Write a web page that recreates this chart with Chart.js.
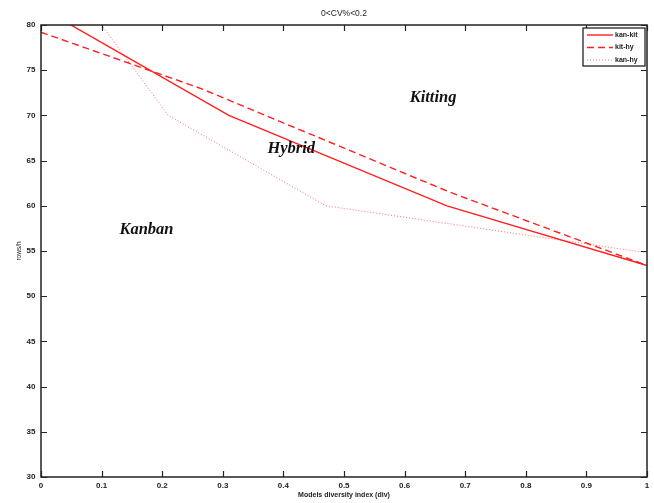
<!DOCTYPE html>
<html>
<head>
<meta charset="utf-8">
<script src="https://cdn.jsdelivr.net/npm/chart.js@4.4.1/dist/chart.umd.min.js"></script>
<style>
  html, body { margin: 0; padding: 0; background: #fff; }
  #wrap { width: 654px; height: 503px; }
</style>
</head>
<body>
<div id="wrap"><canvas id="c" width="654" height="503"></canvas></div>
<script>
/* DATA */
const kanKitX = [0, 0.31, 0.67, 1];
const kanKitY = [81.9, 70, 60, 53.4];

const kitHyX = [0, 0.263, 0.675, 1];
const kitHyY = [79.2, 73.0, 61.5, 53.4];

const kanHyX = [0.1, 0.21, 0.47, 0.675, 1];
const kanHyY = [80, 70, 60, 58, 54.8];

const xTicks = [0, 0.1, 0.2, 0.3, 0.4, 0.5, 0.6, 0.7, 0.8, 0.9, 1];
const yTicks = [30, 35, 40, 45, 50, 55, 60, 65, 70, 75, 80];

const regionLabels = ["Kitting", "Hybrid", "Kanban"];
const regionX = [0.647, 0.413, 0.174];
const regionY = [72.0, 66.3, 57.3];

const chartTitle = "0<CV%<0.2";
const xTitle = "Models diversity index (div)";
const yTitle = "rows/h";

/* HELPERS */
function toPoints(xs, ys) {
    return xs.map((x, i) => ({ x: x, y: ys[i] }));
}

const tickFont = "bold 8px 'Liberation Sans', Arial, sans-serif";

/* FRAME, INNER TICKS, TEXT, LEGEND */
const decor = {
    id: "decor",
    afterDraw(chart) {
        const ctx = chart.ctx;
        const a = chart.chartArea;
        const xs = chart.scales.x;
        const ys = chart.scales.y;

        ctx.save();

        // box
        ctx.strokeStyle = "#222";
        ctx.lineWidth = 1.5;
        ctx.strokeRect(a.left, a.top, a.right - a.left, a.bottom - a.top);

        // inner ticks on all four sides
        ctx.lineWidth = 1.2;
        ctx.beginPath();
        xTicks.forEach(v => {
            const px = Math.round(xs.getPixelForValue(v)) + 0.5;
            ctx.moveTo(px, a.bottom); ctx.lineTo(px, a.bottom - 6);
            ctx.moveTo(px, a.top); ctx.lineTo(px, a.top + 6);
        });
        yTicks.forEach(v => {
            const py = Math.round(ys.getPixelForValue(v)) + 0.5;
            ctx.moveTo(a.left, py); ctx.lineTo(a.left + 6, py);
            ctx.moveTo(a.right, py); ctx.lineTo(a.right - 6, py);
        });
        ctx.stroke();

        // tick labels
        ctx.fillStyle = "#222";
        ctx.font = tickFont;
        ctx.textAlign = "center";
        ctx.textBaseline = "top";
        xTicks.forEach(v => {
            ctx.fillText(String(v), xs.getPixelForValue(v), a.bottom + 4.5);
        });
        ctx.textAlign = "right";
        ctx.textBaseline = "middle";
        yTicks.forEach(v => {
            ctx.fillText(String(v), a.left - 5.5, ys.getPixelForValue(v));
        });

        // titles
        ctx.font = "8.5px 'Liberation Sans', Arial, sans-serif";
        ctx.textAlign = "center";
        ctx.textBaseline = "middle";
        ctx.fillText(chartTitle, (a.left + a.right) / 2, 14);
        ctx.font = "bold 7px 'Liberation Sans', Arial, sans-serif";
        ctx.fillText(xTitle, (a.left + a.right) / 2, 495);
        ctx.save();
        ctx.translate(19, (a.top + a.bottom) / 2);
        ctx.rotate(-Math.PI / 2);
        ctx.font = "6.5px 'Liberation Sans', Arial, sans-serif";
        ctx.fillText(yTitle, 0, 0);
        ctx.restore();

        // region labels
        ctx.font = "italic bold 16.5px 'Liberation Serif', 'DejaVu Serif', serif";
        ctx.fillStyle = "#111";
        regionLabels.forEach((t, i) => {
            ctx.fillText(t, xs.getPixelForValue(regionX[i]), ys.getPixelForValue(regionY[i]));
        });

        // legend
        const lx = 583, ly = 28, lw = 62, lh = 38;
        ctx.fillStyle = "#fff";
        ctx.fillRect(lx, ly, lw, lh);
        ctx.strokeStyle = "#111";
        ctx.lineWidth = 1.2;
        ctx.strokeRect(lx, ly, lw, lh);
        chart.data.datasets.forEach((ds, i) => {
            const yy = ly + 7 + i * 12.5;
            ctx.strokeStyle = ds.borderColor;
            ctx.lineWidth = ds.borderWidth;
            ctx.setLineDash(ds.borderDash || []);
            ctx.beginPath();
            ctx.moveTo(lx + 4, yy);
            ctx.lineTo(lx + 30, yy);
            ctx.stroke();
            ctx.setLineDash([]);
            ctx.fillStyle = "#222";
            ctx.font = "bold 7px 'Liberation Sans', Arial, sans-serif";
            ctx.textAlign = "left";
            ctx.fillText(ds.label, lx + 32, yy);
        });

        ctx.restore();
    }
};

new Chart(document.getElementById("c"), {
    type: "scatter",
    data: {
        datasets: [
            {
                label: "kan-kit",
                data: toPoints(kanKitX, kanKitY),
                showLine: true,
                borderColor: "#ff1f1f",
                borderWidth: 1.4,
                pointRadius: 0
            },
            {
                label: "kit-hy",
                data: toPoints(kitHyX, kitHyY),
                showLine: true,
                borderColor: "#ff1f1f",
                borderWidth: 1.4,
                borderDash: [7, 4],
                pointRadius: 0
            },
            {
                label: "kan-hy",
                data: toPoints(kanHyX, kanHyY),
                showLine: true,
                borderColor: "rgba(255,60,60,0.75)",
                borderWidth: 1,
                borderDash: [1, 2],
                pointRadius: 0
            }
        ]
    },
    options: {
        responsive: false,
        animation: false,
        events: [],
        layout: { padding: { top: 25, right: 7, left: 0, bottom: 0 } },
        plugins: {
            legend: { display: false },
            tooltip: { enabled: false }
        },
        scales: {
            x: {
                type: "linear",
                min: 0,
                max: 1,
                grid: { display: false },
                border: { display: false },
                ticks: { display: false },
                afterFit(s) { s.height = 26; }
            },
            y: {
                type: "linear",
                min: 30,
                max: 80,
                grid: { display: false },
                border: { display: false },
                ticks: { display: false },
                afterFit(s) { s.width = 41; }
            }
        }
    },
    plugins: [decor]
});
</script>
</body>
</html>
